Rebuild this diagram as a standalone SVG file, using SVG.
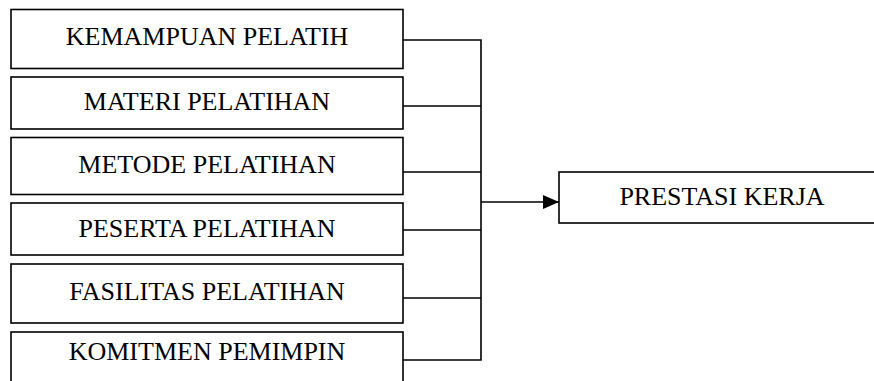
<svg xmlns="http://www.w3.org/2000/svg" width="874" height="381" viewBox="0 0 874 381">
<defs>
<style>
.box{fill:#fff;stroke:#000;stroke-width:1.6}
.t{font-family:"Liberation Serif","Times New Roman",serif;font-size:26px;fill:#000;text-anchor:middle}
.c{fill:none;stroke:#000;stroke-width:1.6}
</style>
<marker id="ah" viewBox="0 0 16 14" markerWidth="16" markerHeight="14" refX="16" refY="7" orient="auto" markerUnits="userSpaceOnUse">
<path d="M0,0 L16,7 L0,14 Z" fill="#000"/>
</marker>
</defs>
<rect width="874" height="381" fill="#fff"/>
<g id="n1"><rect class="box" x="11" y="9.5" width="392" height="59"/><text class="t" x="207" y="45">KEMAMPUAN PELATIH</text></g>
<g id="n2"><rect class="box" x="11" y="77" width="392" height="52"/><text class="t" x="207" y="110">MATERI PELATIHAN</text></g>
<g id="n3"><rect class="box" x="11" y="137.5" width="392" height="57"/><text class="t" x="207" y="173">METODE PELATIHAN</text></g>
<g id="n4"><rect class="box" x="11" y="203" width="392" height="52"/><text class="t" x="207" y="237">PESERTA PELATIHAN</text></g>
<g id="n5"><rect class="box" x="11" y="264" width="392" height="59"/><text class="t" x="207" y="300">FASILITAS PELATIHAN</text></g>
<g id="n6"><rect class="box" x="11" y="332" width="392" height="70"/><text class="t" x="207" y="360">KOMITMEN PEMIMPIN</text></g>
<g id="n7"><rect class="box" x="559" y="172" width="330" height="51"/><text class="t" x="722" y="205">PRESTASI KERJA</text></g>
<g id="connectors">
<path class="c" d="M403,40 H481 M403,106 H481 M403,172 H481 M403,230 H481 M403,298 H481 M403,360 H481 M481,39.2 V360.8"/>
<path class="c" d="M481,202 H559" marker-end="url(#ah)"/>
</g>
</svg>
